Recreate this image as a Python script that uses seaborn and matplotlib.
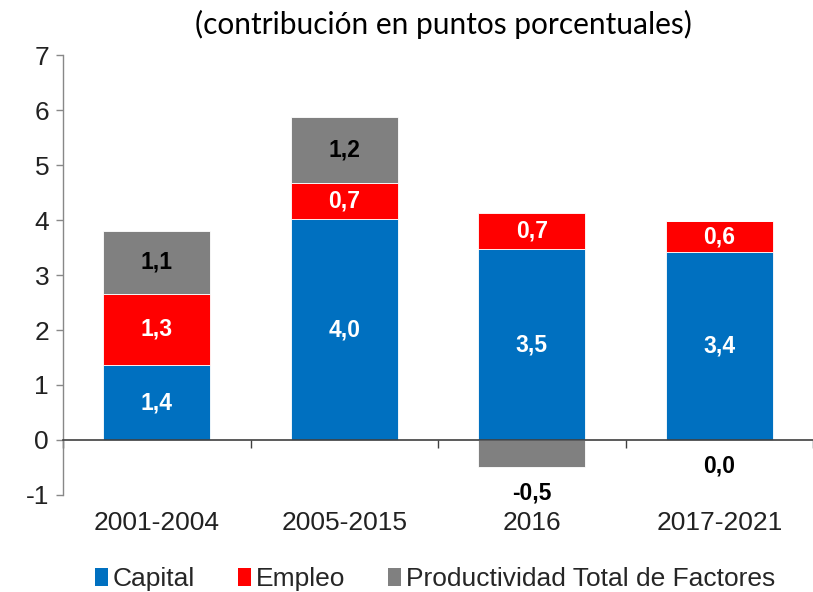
import matplotlib
matplotlib.use("Agg")
import matplotlib.pyplot as plt
from matplotlib.patches import Patch
import numpy as np
import seaborn as sns

# Data
periods = ["2001-2004", "2005-2015", "2016", "2017-2021"]
capital = [1.36, 4.01, 3.47, 3.41]
empleo = [1.30, 0.66, 0.66, 0.57]
ptf = [1.14, 1.21, -0.49, 0.0]

series_names = ["Capital", "Empleo", "Productividad Total de Factores"]
colors = ["#0070C0", "#FF0000", "#808080"]
label_colors = ["white", "white", "black"]

sns.set_style("white")
plt.rcParams["font.family"] = ["Liberation Sans", "DejaVu Sans"]

fig = plt.figure(figsize=(8.13, 5.92), dpi=100)
ax = fig.add_axes([63 / 813, 0.1639, 1 - 63 / 813, 0.907 - 0.1639])

cap = np.array(capital)
emp = np.array(empleo)
pt = np.array(ptf)
ptf_bottom = np.where(pt >= 0, cap + emp, 0)

bottoms = [np.zeros(len(cap)), cap, ptf_bottom]
values = [cap, emp, pt]

for vals, bot, col in zip(values, bottoms, colors):
    sns.barplot(x=periods, y=vals, bottom=bot, color=col, width=0.57,
                edgecolor="white", linewidth=0.6, ax=ax, saturation=1)


def fmt(v):
    return f"{v:.1f}".replace(".", ",")


# labels inside the segments (negative / zero ones go below the axis)
for i, (vals, bot, lc) in enumerate(zip(values, bottoms, label_colors)):
    for j, v in enumerate(vals):
        if v > 0:
            ax.text(j, bot[j] + v / 2, fmt(v), ha="center", va="center",
                    color=lc, fontsize=16.5, fontweight="bold")
        else:
            ax.text(j, v - 0.48, fmt(v), ha="center", va="center",
                    color="black", fontsize=16.5, fontweight="bold")

ax.set_xlim(-0.5, 3.43)
ax.set_ylim(-1, 7)
ax.set_yticks(range(-1, 8))
ax.set_yticklabels([str(t) for t in range(-1, 8)])

# axis styling
for s in ["top", "right"]:
    ax.spines[s].set_visible(False)
ax.spines["left"].set_color("#888888")
ax.spines["left"].set_linewidth(1)
ax.spines["bottom"].set_position(("data", 0))
ax.spines["bottom"].set_color("#404040")
ax.spines["bottom"].set_linewidth(1.2)

ax.tick_params(axis="y", which="major", left=True, length=5, color="#888888",
               width=1, labelsize=19, pad=5, labelcolor="#222222")
ax.tick_params(axis="x", which="major", bottom=False, length=0, pad=51,
               labelsize=19, labelcolor="#222222")
ax.set_xticks(np.arange(-0.5, 4, 1), minor=True)
ax.tick_params(axis="x", which="minor", bottom=True, length=6, width=1,
               color="#404040", direction="out")
ax.set_xlabel("")
ax.set_ylabel("")

fig.text(0.545, 0.958, "(contribución en puntos porcentuales)", ha="center",
         va="center", fontsize=21.5, family=["Lato", "DejaVu Sans"], color="black")

handles = [Patch(facecolor=c, edgecolor="none") for c in colors]
fig.legend(handles, series_names, loc="center", bbox_to_anchor=(0.535, 0.022),
           ncol=3, frameon=False, fontsize=19, handlelength=0.5, handleheight=0.65,
           handletextpad=0.2, columnspacing=1.6, borderaxespad=0)

fig.savefig("out.png", dpi=100)
